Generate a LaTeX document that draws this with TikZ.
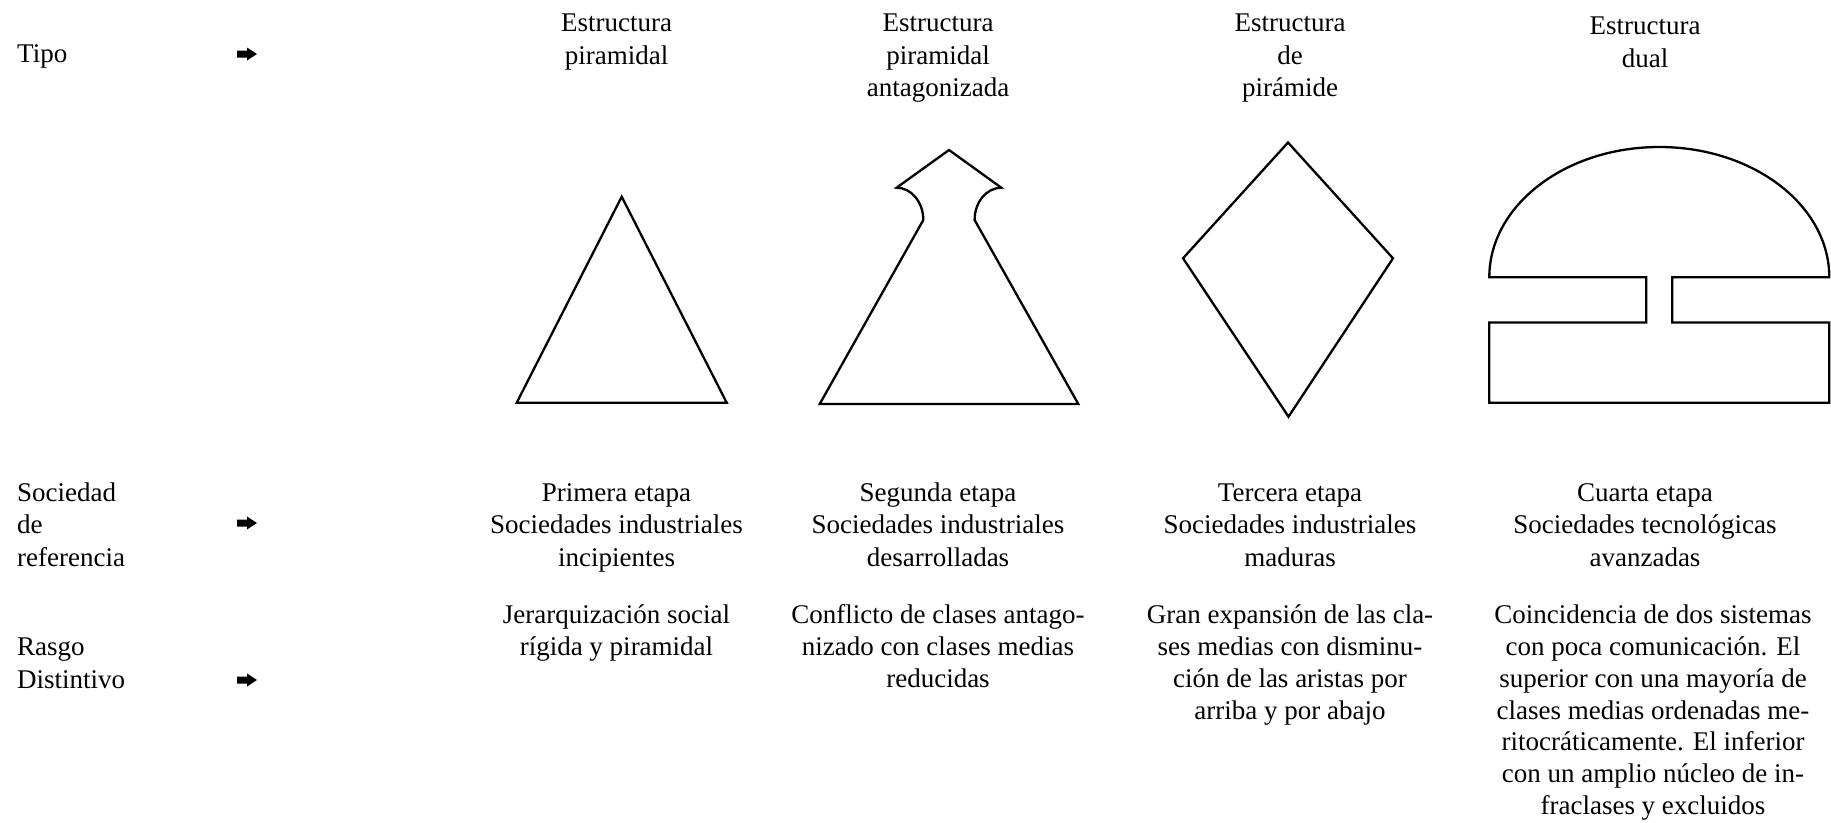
\documentclass[tikz,border=0pt]{standalone}
\usepackage{fontspec}
\setmainfont{Liberation Serif}
\begin{document}
\begin{tikzpicture}[x=1pt,y=-1pt,
  figline/.style={draw=black, line width=2.3pt, line join=miter},
  txt/.style={font=\fontsize{27}{32.7}\selectfont, align=center, anchor=north, inner sep=0pt},
  trait/.style={txt, font=\fontsize{27}{31.8}\selectfont},
  lbl/.style={font=\fontsize{27}{32.7}\selectfont, align=left, anchor=north west, inner sep=0pt},
  arrowglyph/.pic={\fill[black] (0,-3.5) -- (10,-3.5) -- (10,-6.5) -- (20,0) -- (10,6.5) -- (10,3.5) -- (0,3.5) -- cycle;}
]
\useasboundingbox (0,0) rectangle (1831,822);

% left labels
\node[lbl] (tipo) at (17,39.4) {\strut Tipo};
\node[lbl] (soc) at (17,478.1) {\strut Sociedad\\de\\referencia};
\node[lbl] (rasgo) at (17,632.4) {\strut Rasgo\\Distintivo};
\pic at (237,54) {arrowglyph};
\pic at (237,523) {arrowglyph};
\pic at (237,680) {arrowglyph};

% header
\node[txt] (h1) at (616.5,8.4) {\strut Estructura\\piramidal};
\node[txt] (h2) at (938,8.4) {\strut Estructura\\piramidal\\antagonizada};
\node[txt] (h3) at (1290,8.4) {\strut Estructura\\de\\pirámide};
\node[txt] (h4) at (1645,11.6) {\strut Estructura\\dual};

% shapes
\draw[figline] (621.7,196.7) -- (516.7,402.7) -- (726.7,402.7) -- cycle;
\draw[figline] (819.7,404) -- (923.3,220)
  arc[start angle=0, end angle=-90, x radius=26.7, y radius=32.3]
  -- (949,150) -- (1001.3,187.7)
  arc[start angle=270, end angle=180, x radius=26.7, y radius=32.3]
  -- (1078.3,404) -- cycle;
\draw[figline] (1288,142.5) -- (1393,258.3) -- (1288.5,416.7) -- (1183,258.3) -- cycle;
\draw[figline] (1489.3,277.3)
  arc[start angle=180, end angle=360, x radius=170, y radius=130.3]
  -- (1672.3,277.3) -- (1672.3,322.5) -- (1829.3,322.5) -- (1829.3,402.7)
  -- (1489.3,402.7) -- (1489.3,322.5) -- (1646.3,322.5) -- (1646.3,277.3) -- cycle;

% reference societies
\node[txt] (s1) at (616.5,478.1) {\strut Primera etapa\\Sociedades industriales\\incipientes};
\node[txt] (s2) at (938,478.1) {\strut Segunda etapa\\Sociedades industriales\\desarrolladas};
\node[txt] (s3) at (1290,478.1) {\strut Tercera etapa\\Sociedades industriales\\maduras};
\node[txt] (s4) at (1645,478.1) {\strut Cuarta etapa\\Sociedades tecnológicas\\avanzadas};

% distinctive traits
\node[trait] (r1) at (616.5,601.2) {\strut Jerarquización social\\rígida y piramidal};
\node[trait] (r2) at (938,601.2) {\strut Conflicto de clases antago-\\nizado con clases medias\\reducidas};
\node[trait] (r3) at (1290,601.2) {\strut Gran expansión de las cla-\\ses medias con disminu-\\ción de las aristas por\\arriba y por abajo};
\node[trait] (r4) at (1653,601.2) {\strut Coincidencia de dos sistemas\\con poca comunicación. El\\superior con una mayoría de\\clases medias ordenadas me-\\ritocráticamente. El inferior\\con un amplio núcleo de in-\\fraclases y excluidos};
\end{tikzpicture}
\end{document}
